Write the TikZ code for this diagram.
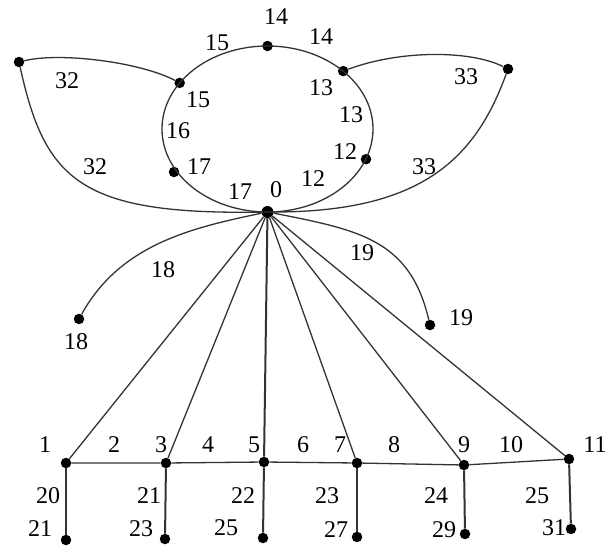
\documentclass[tikz,border=0pt]{standalone}
\usepackage{fontspec}
\setmainfont{Liberation Serif}
\begin{document}
\begin{tikzpicture}[x=1pt,y=-1pt,
 dot/.style={circle,fill=black,inner sep=0pt,minimum size=10.5pt},
 lbl/.style={inner sep=0pt,font=\fontsize{24}{24}\selectfont},
 wire/.style={line width=1.3pt,draw=black!80},
 drop/.style={line width=2pt,draw=black!80}]
\useasboundingbox (0,0) rectangle (608,549);
% loop nodes
\coordinate (c) at (267.5,129);
\node[dot,minimum size=12pt] (n0) at (267.5,212) {};
\node[dot] (n12) at (366,159.2) {};
\node[dot] (n13) at (343.2,71.1) {};
\node[dot] (n14) at (267.5,46) {};
\node[dot] (n15) at (179.7,82.9) {};
\node[dot] (n17) at (174,172) {};
\node[dot] (n32) at (19,62) {};
\node[dot] (n33) at (508,69) {};
\node[dot] (n18) at (79,319) {};
\node[dot] (n19) at (430,325) {};
% bottom row
\node[dot] (b1) at (66,463) {};
\node[dot] (b3) at (166,463) {};
\node[dot] (b5) at (264,462) {};
\node[dot] (b7) at (357,463) {};
\node[dot] (b9) at (464,465) {};
\node[dot] (b11) at (569,459) {};
\node[dot] (h21) at (66,540) {};
\node[dot] (h23) at (165,539) {};
\node[dot] (h25) at (263,538) {};
\node[dot] (h27) at (357,537) {};
\node[dot] (h29) at (465,534) {};
\node[dot] (h31) at (571,529) {};
% loop
\draw[wire] (n0.center) arc[start angle=-90,delta angle=360,x radius=105.5pt,y radius=83pt];
% outer petals
\draw[wire] (n15) .. controls (140,62) and (60,52) .. (n32);
\draw[wire] (n32) .. controls (45,180) and (80,215) .. (n0);
\draw[wire] (n13) .. controls (400,50) and (470,50) .. (n33);
\draw[wire] (n33) .. controls (475,160) and (420,212) .. (n0);
% side branches
\draw[wire] (n0) .. controls (190,228) and (120,245) .. (n18);
\draw[wire] (n0) .. controls (360,230) and (410,240) .. (n19);
% fan
\foreach \b in {b1,b3,b7,b9,b11} \draw[wire] (n0) -- (\b);
\draw[drop] (n0) -- (b5);
\draw[wire] (b1) -- (b3) -- (b5) -- (b7) -- (b9) -- (b11);
\draw[drop] (b1) -- (h21);
\draw[drop] (b3) -- (h23);
\draw[drop] (b5) -- (h25);
\draw[drop] (b7) -- (h27);
\draw[drop] (b9) -- (h29);
\draw[drop] (b11) -- (h31);
% labels top
\node[lbl] (t14) at (276,17) {14};
\node[lbl] (e15) at (217,43) {15};
\node[lbl] (e14) at (321,37) {14};
\node[lbl] (t15) at (198,100) {15};
\node[lbl] (e16) at (178,131) {16};
\node[lbl] (t17) at (199,167) {17};
\node[lbl] (e17) at (240,192) {17};
\node[lbl] (t0) at (276,190) {0};
\node[lbl] (t13) at (321,88) {13};
\node[lbl] (e13) at (351,115) {13};
\node[lbl] (t12) at (345,152) {12};
\node[lbl] (e12) at (313,179) {12};
\node[lbl] (e32a) at (67,81) {32};
\node[lbl] (e32b) at (95,167) {32};
\node[lbl] (e33a) at (466,77) {33};
\node[lbl] (e33b) at (424,167) {33};
\node[lbl] (e18) at (163,270) {18};
\node[lbl] (t18) at (76,342) {18};
\node[lbl] (e19) at (362,253) {19};
\node[lbl] (t19) at (461,318) {19};
% labels bottom
\node[lbl] (l1) at (45,445) {1};
\node[lbl] (l2) at (114,445) {2};
\node[lbl] (l3) at (161,445) {3};
\node[lbl] (l4) at (208,445) {4};
\node[lbl] (l5) at (254,445) {5};
\node[lbl] (l6) at (303,445) {6};
\node[lbl] (l7) at (340,445) {7};
\node[lbl] (l8) at (394,445) {8};
\node[lbl] (l9) at (464,445) {9};
\node[lbl] (l10) at (511,445) {10};
\node[lbl] (l11) at (595,445) {11};
\node[lbl] (l20) at (48,496) {20};
\node[lbl] (l21a) at (149,496) {21};
\node[lbl] (l22) at (243,496) {22};
\node[lbl] (l23a) at (327,496) {23};
\node[lbl] (l24) at (436,496) {24};
\node[lbl] (l25a) at (537,496) {25};
\node[lbl] (l21b) at (40,529) {21};
\node[lbl] (l23b) at (141,529) {23};
\node[lbl] (l25b) at (226,528) {25};
\node[lbl] (l27) at (336,530) {27};
\node[lbl] (l29) at (444,530) {29};
\node[lbl] (l31) at (554,528) {31};
\end{tikzpicture}
\end{document}
